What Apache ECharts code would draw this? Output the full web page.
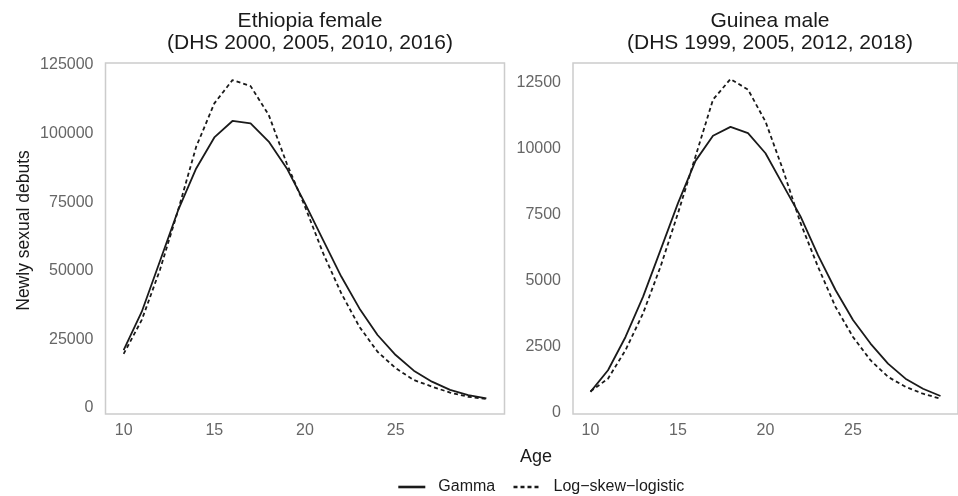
<!DOCTYPE html>
<html>
<head>
<meta charset="utf-8">
<script src="https://cdn.jsdelivr.net/npm/echarts@6/dist/echarts.min.js"></script>
<style>
html,body{margin:0;padding:0;background:#fff;}
#chart{width:958px;height:496px;}
</style>
</head>
<body>
<div id="chart"></div>
<script>
const ages = [10,11,12,13,14,15,16,17,18,19,20,21,22,23,24,25,26,27,28,29,30];
const ethGamma = [21100,35100,53500,72000,87300,98600,104600,103700,97100,87300,74600,61200,47900,36300,26600,19300,13600,9600,6600,4700,3500];
const ethLSL   = [19700,32100,50300,72000,95200,111000,119500,117300,106800,89000,73400,56400,41800,29600,20500,14500,10200,7800,5600,4100,3300];
const guiGamma = [800,1620,2880,4400,6170,7950,9550,10500,10840,10600,9840,8640,7450,5980,4660,3520,2630,1870,1300,920,645];
const guiLSL   = [820,1300,2380,3770,5540,7570,9720,11870,12650,12250,11040,9210,7200,5540,4020,2880,2000,1370,990,730,540];
const ethYTicks = [0,25000,50000,75000,100000,125000];
const guiYTicks = [0,2500,5000,7500,10000,12500];
const xTicks = [10,15,20,25];
const titles = ['Ethiopia female\n(DHS 2000, 2005, 2010, 2016)', 'Guinea male\n(DHS 1999, 2005, 2012, 2018)'];
const seriesNames = ['Gamma', 'Log\u2212skew\u2212logistic'];

const FONT = '"Liberation Sans", Arial, sans-serif';
const pair = (xs, ys) => xs.map((x, i) => [x, ys[i]]);
const plain = v => String(v);

const chart = echarts.init(document.getElementById('chart'), null, {renderer: 'canvas'});

function xAxis(gi) {
  return {
    type: 'value', gridIndex: gi, min: 9, max: 31,
    axisLine: {show: false}, axisTick: {show: false}, splitLine: {show: false},
    axisLabel: {customValues: xTicks, formatter: plain, color: '#666', fontSize: 16, fontFamily: FONT, margin: 9}
  };
}
function yAxis(gi, ticks, min, max, name) {
  return {
    type: 'value', gridIndex: gi, min: min, max: max,
    axisLine: {show: false}, axisTick: {show: false}, splitLine: {show: false},
    axisLabel: {customValues: ticks, formatter: plain, color: '#666', fontSize: 16, fontFamily: FONT, margin: 12},
    name: name || '', nameLocation: 'middle', nameGap: 72,
    nameTextStyle: {color: '#1a1a1a', fontSize: 17.5, fontFamily: FONT, padding: [0, 0, 0, 16]}
  };
}
const lineBase = {type: 'line', symbol: 'none', showSymbol: false, silent: true, animation: false};
const solid = {color: '#1a1a1a', width: 1.8, type: 'solid'};
const dashed = {color: '#1a1a1a', width: 1.8, type: [4, 3]};

chart.setOption({
  backgroundColor: '#fff',
  animation: false,
  title: [
    {text: titles[0], left: 305, top: 5, textAlign: 'center',
     textStyle: {fontSize: 21, fontWeight: 'normal', color: '#1a1a1a', fontFamily: FONT, lineHeight: 22}},
    {text: titles[1], left: 765, top: 5, textAlign: 'center',
     textStyle: {fontSize: 21, fontWeight: 'normal', color: '#1a1a1a', fontFamily: FONT, lineHeight: 22}},
    {text: 'Age', left: 531, top: 443, textAlign: 'center',
     textStyle: {fontSize: 18, fontWeight: 'normal', color: '#1a1a1a', fontFamily: FONT}}
  ],
  legend: {
    data: seriesNames, left: 392, top: 474, itemWidth: 27, itemHeight: 14, itemGap: 17,
    itemStyle: {opacity: 0},
    lineStyle: {width: 2.6},
    textStyle: {fontSize: 16, color: '#1a1a1a', fontFamily: FONT, padding: [0, 0, 0, 8]}
  },
  grid: [
    {left: 105.5, top: 63, width: 399, height: 351, show: true, borderColor: '#cccccc', borderWidth: 1.5, backgroundColor: 'transparent'},
    {left: 573, top: 63, width: 398.6, height: 351, show: true, borderColor: '#cccccc', borderWidth: 1.5, backgroundColor: 'transparent'}
  ],
  xAxis: [xAxis(0), xAxis(1)],
  yAxis: [
    yAxis(0, ethYTicks, -2187, 125729, 'Newly sexual debuts'),
    yAxis(1, guiYTicks, -38, 13258)
  ],
  series: [
    Object.assign({}, lineBase, {name: seriesNames[0], xAxisIndex: 0, yAxisIndex: 0, data: pair(ages, ethGamma), lineStyle: solid, itemStyle: {color: '#1a1a1a'}}),
    Object.assign({}, lineBase, {name: seriesNames[1], xAxisIndex: 0, yAxisIndex: 0, data: pair(ages, ethLSL), lineStyle: dashed, itemStyle: {color: '#1a1a1a'}}),
    Object.assign({}, lineBase, {name: seriesNames[0], xAxisIndex: 1, yAxisIndex: 1, data: pair(ages, guiGamma), lineStyle: solid, itemStyle: {color: '#1a1a1a'}}),
    Object.assign({}, lineBase, {name: seriesNames[1], xAxisIndex: 1, yAxisIndex: 1, data: pair(ages, guiLSL), lineStyle: dashed, itemStyle: {color: '#1a1a1a'}})
  ]
});
</script>
</body>
</html>
